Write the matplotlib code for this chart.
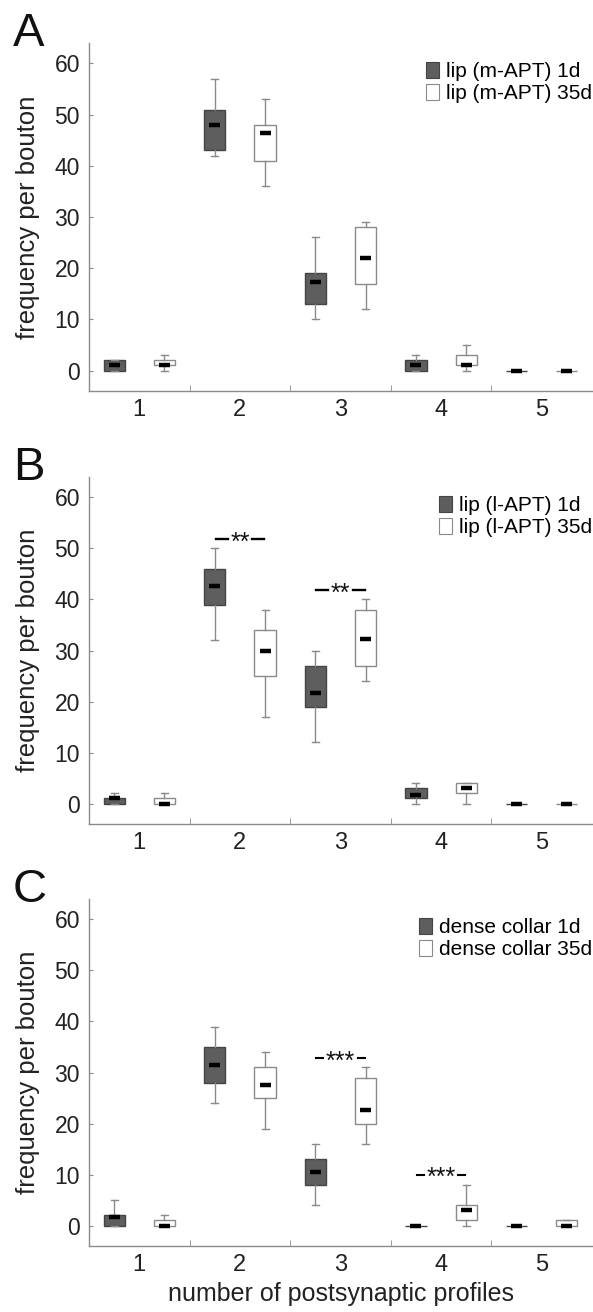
import matplotlib
matplotlib.use('Agg')
import matplotlib.pyplot as plt
from matplotlib.patches import Patch
import numpy as np

plt.rcParams['font.family'] = ['Liberation Sans', 'DejaVu Sans']

categories = [1, 2, 3, 4, 5]

# panel A: lip (m-APT)
A_1d_lo  = [0, 42, 10, 0, 0]
A_1d_q1  = [0, 43, 13, 0, 0]
A_1d_med = [1, 48, 17.3, 1, 0]
A_1d_q3  = [2, 51, 19, 2, 0]
A_1d_hi  = [2, 57, 26, 3, 0]
A_35_lo  = [0, 36, 12, 0, 0]
A_35_q1  = [1, 41, 17, 1, 0]
A_35_med = [1, 46.5, 22, 1, 0]
A_35_q3  = [2, 48, 28, 3, 0]
A_35_hi  = [3, 53, 29, 5, 0]

# panel B: lip (l-APT)
B_1d_lo  = [0, 32, 12, 0, 0]
B_1d_q1  = [0, 39, 19, 1, 0]
B_1d_med = [1, 42.6, 21.7, 1.7, 0]
B_1d_q3  = [1, 46, 27, 3, 0]
B_1d_hi  = [2, 50, 30, 4, 0]
B_35_lo  = [0, 17, 24, 0, 0]
B_35_q1  = [0, 25, 27, 2, 0]
B_35_med = [0, 30, 32.2, 3, 0]
B_35_q3  = [1, 34, 38, 4, 0]
B_35_hi  = [2, 38, 40, 4, 0]

# panel C: dense collar
C_1d_lo  = [0, 24, 4, 0, 0]
C_1d_q1  = [0, 28, 8, 0, 0]
C_1d_med = [1.6, 31.5, 10.5, 0, 0]
C_1d_q3  = [2, 35, 13, 0, 0]
C_1d_hi  = [5, 39, 16, 0, 0]
C_35_lo  = [0, 19, 16, 0, 0]
C_35_q1  = [0, 25, 20, 1, 0]
C_35_med = [0, 27.5, 22.6, 3, 0]
C_35_q3  = [1, 31, 29, 4, 1]
C_35_hi  = [2, 34, 31, 8, 1]

A_labels = ['lip (m-APT) 1d', 'lip (m-APT) 35d']
B_labels = ['lip (l-APT) 1d', 'lip (l-APT) 35d']
C_labels = ['dense collar 1d', 'dense collar 35d']

B_sig_x = [2, 3]
B_sig_y = [51.9, 41.8]
B_sig_txt = ['**', '**']
C_sig_x = [3, 4]
C_sig_y = [32.9, 10.0]
C_sig_txt = ['***', '***']

dark = '#5e5e5e'
gray = '#8a8a8a'

W, H = 593, 1312
fig = plt.figure(figsize=(W / 100, H / 100), dpi=100)


def stats(lo, q1, med, q3, hi):
    return [dict(whislo=a, q1=b, med=c, q3=d, whishi=e, fliers=[])
            for a, b, c, d, e in zip(lo, q1, med, q3, hi)]


def draw_group(ax, st, pos, face, edge):
    ax.bxp(st, positions=pos, widths=0.21, capwidths=0.07, patch_artist=True,
           showfliers=False,
           boxprops=dict(facecolor=face, edgecolor=edge, linewidth=1.0),
           whiskerprops=dict(color=gray, linewidth=1.0),
           capprops=dict(color=gray, linewidth=1.0),
           medianprops=dict(linewidth=0))
    meds = [s['med'] for s in st]
    ax.hlines(meds, np.array(pos) - 0.055, np.array(pos) + 0.055,
              color='black', linewidth=3.2, zorder=5)


def sig(ax, x, y, txt, half, dash, gap, lw):
    ax.plot([x - half - gap - dash, x - half - gap], [y, y], color='black', lw=lw)
    ax.plot([x + half + gap, x + half + gap + dash], [y, y], color='black', lw=lw)
    ax.text(x, y - 2.1, txt, ha='center', va='baseline', fontsize=18, color='#111111')


panels = [
    ('A', 43, 391, stats(A_1d_lo, A_1d_q1, A_1d_med, A_1d_q3, A_1d_hi),
     stats(A_35_lo, A_35_q1, A_35_med, A_35_q3, A_35_hi), A_labels, [], [], []),
    ('B', 477, 824, stats(B_1d_lo, B_1d_q1, B_1d_med, B_1d_q3, B_1d_hi),
     stats(B_35_lo, B_35_q1, B_35_med, B_35_q3, B_35_hi), B_labels,
     B_sig_x, B_sig_y, B_sig_txt),
    ('C', 899, 1246, stats(C_1d_lo, C_1d_q1, C_1d_med, C_1d_q3, C_1d_hi),
     stats(C_35_lo, C_35_q1, C_35_med, C_35_q3, C_35_hi), C_labels,
     C_sig_x, C_sig_y, C_sig_txt),
]

x = np.array(categories, dtype=float)
left_px, right_px = 89, 592
for letter, top, bot, st1, st35, labels, sx, sy, stxt in panels:
    ax = fig.add_axes([left_px / W, 1 - bot / H, (right_px - left_px) / W, (bot - top) / H])
    draw_group(ax, st1, list(x - 0.25), dark, '#444444')
    draw_group(ax, st35, list(x + 0.25), 'white', gray)

    if letter == 'B':
        for xx, yy, tt in zip(sx, sy, stxt):
            sig(ax, xx, yy, tt, 0.11, 0.12, 0.01, 1.7)
    elif letter == 'C':
        for xx, yy, tt in zip(sx, sy, stxt):
            sig(ax, xx, yy, tt, 0.15, 0.07, 0.02, 1.5)

    ax.set_xlim(0.5, 5.5)
    ax.set_ylim(-4, 64)
    ax.set_xticks(categories)
    ax.set_xticklabels([str(c) for c in categories])
    ax.set_xticks([1.5, 2.5, 3.5, 4.5], minor=True)
    ax.set_yticks([0, 10, 20, 30, 40, 50, 60])
    ax.tick_params(axis='x', which='major', length=0, labelsize=17, pad=6, labelcolor='#222222')
    ax.tick_params(axis='x', which='minor', direction='in', length=4, color=gray)
    ax.tick_params(axis='y', direction='in', length=3, color=gray, labelsize=16.5, pad=6.5,
                   labelcolor='#222222')
    for s in ['top', 'right']:
        ax.spines[s].set_visible(False)
    for s in ['left', 'bottom']:
        ax.spines[s].set_color(gray)
        ax.spines[s].set_linewidth(1.0)

    ax.set_ylabel('frequency per bouton', fontsize=18.5, color='#222222')
    ax.yaxis.set_label_coords(-0.097, 0.5)

    handles = [Patch(facecolor=dark, edgecolor='#444444', linewidth=0.8),
               Patch(facecolor='white', edgecolor=gray, linewidth=0.8)]
    ax.legend(handles, labels, loc='upper right', bbox_to_anchor=(1.0, 0.945),
              frameon=False, fontsize=15, handlelength=0.6, handleheight=0.8,
              handletextpad=0.35, labelspacing=0.12, borderpad=0, borderaxespad=0)

    fig.text(13 / W, 1 - (top - 31) / H, letter, fontsize=34, ha='left', va='top',
             color='#111111')

    if letter == 'C':
        ax.set_xlabel('number of postsynaptic profiles', fontsize=18, color='#222222')
        ax.xaxis.set_label_coords(0.5, -0.103)

fig.savefig('out.png', dpi=100)
